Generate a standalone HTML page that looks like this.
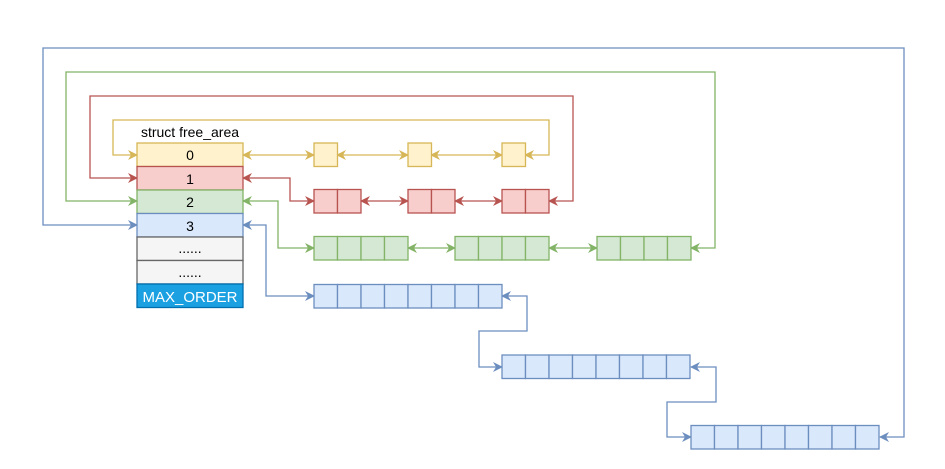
<!DOCTYPE html>
<html><head><meta charset="utf-8"><style>html,body{margin:0;padding:0;background:#fff}svg{display:block}text{font-family:"Liberation Sans",sans-serif}</style></head>
<body>
<svg width="945" height="469" viewBox="0 0 945 469" xmlns="http://www.w3.org/2000/svg">
<defs>
<marker id="my" viewBox="0 0 10 10" refX="9" refY="5" markerWidth="10" markerHeight="10" orient="auto-start-reverse" markerUnits="userSpaceOnUse"><path d="M0,0 L10,5 L0,10 L3,5z" fill="#d6b656"/></marker>
<marker id="mr" viewBox="0 0 10 10" refX="9" refY="5" markerWidth="10" markerHeight="10" orient="auto-start-reverse" markerUnits="userSpaceOnUse"><path d="M0,0 L10,5 L0,10 L3,5z" fill="#b85450"/></marker>
<marker id="mg" viewBox="0 0 10 10" refX="9" refY="5" markerWidth="10" markerHeight="10" orient="auto-start-reverse" markerUnits="userSpaceOnUse"><path d="M0,0 L10,5 L0,10 L3,5z" fill="#82b366"/></marker>
<marker id="mb" viewBox="0 0 10 10" refX="9" refY="5" markerWidth="10" markerHeight="10" orient="auto-start-reverse" markerUnits="userSpaceOnUse"><path d="M0,0 L10,5 L0,10 L3,5z" fill="#6c8ebf"/></marker>
</defs>
<g fill="none" stroke-width="1.3">
<path d="M525,155 L549,155 L549,120 L113,120 L113,155 L137,155" stroke="#d6b656" marker-start="url(#my)" marker-end="url(#my)"/>
<path d="M549,201 L573,201 L573,96 L90,96 L90,178 L137,178" stroke="#b85450" marker-start="url(#mr)" marker-end="url(#mr)"/>
<path d="M691,248 L715,248 L715,72 L66,72 L66,201 L137,201" stroke="#82b366" marker-start="url(#mg)" marker-end="url(#mg)"/>
<path d="M880,437 L904,437 L904,48 L43,48 L43,225 L137,225" stroke="#6c8ebf" marker-start="url(#mb)" marker-end="url(#mb)"/>
<path d="M243,155 L314,155" stroke="#d6b656" marker-start="url(#my)" marker-end="url(#my)"/>
<path d="M337,155 L408,155" stroke="#d6b656" marker-start="url(#my)" marker-end="url(#my)"/>
<path d="M431,155 L502,155" stroke="#d6b656" marker-start="url(#my)" marker-end="url(#my)"/>
<path d="M243,178 L290,178 L290,201 L314,201" stroke="#b85450" marker-start="url(#mr)" marker-end="url(#mr)"/>
<path d="M361,201 L408,201" stroke="#b85450" marker-start="url(#mr)" marker-end="url(#mr)"/>
<path d="M455,201 L502,201" stroke="#b85450" marker-start="url(#mr)" marker-end="url(#mr)"/>
<path d="M243,201 L278,201 L278,248 L314,248" stroke="#82b366" marker-start="url(#mg)" marker-end="url(#mg)"/>
<path d="M408,248 L455,248" stroke="#82b366" marker-start="url(#mg)" marker-end="url(#mg)"/>
<path d="M549,248 L597,248" stroke="#82b366" marker-start="url(#mg)" marker-end="url(#mg)"/>
<path d="M243,225 L266,225 L266,296 L314,296" stroke="#6c8ebf" marker-start="url(#mb)" marker-end="url(#mb)"/>
<path d="M502,296 L527,296 L527,331 L479,331 L479,367 L502,367" stroke="#6c8ebf" marker-start="url(#mb)" marker-end="url(#mb)"/>
<path d="M691,367 L716,367 L716,402 L667,402 L667,437 L691,437" stroke="#6c8ebf" marker-start="url(#mb)" marker-end="url(#mb)"/>
</g>
<text x="190" y="137" font-size="14" text-anchor="middle">struct free_area</text>
<g stroke-width="1.3">
<rect x="137" y="143" width="106" height="23.5" fill="#fff2cc" stroke="#d6b656"/>
<rect x="137" y="166.5" width="106" height="23.5" fill="#f8cecc" stroke="#b85450"/>
<rect x="137" y="190" width="106" height="23.5" fill="#d5e8d4" stroke="#82b366"/>
<rect x="137" y="213.5" width="106" height="23.5" fill="#dae8fc" stroke="#6c8ebf"/>
<rect x="137" y="237" width="106" height="23.5" fill="#f5f5f5" stroke="#666"/>
<rect x="137" y="260.5" width="106" height="23.5" fill="#f5f5f5" stroke="#666"/>
<rect x="137" y="284" width="106" height="23.5" fill="#1ba1e2" stroke="#006eaf"/>
</g>
<g font-size="14" text-anchor="middle">
<text x="190" y="160">0</text><text x="190" y="184">1</text><text x="190" y="207">2</text><text x="190" y="231">3</text>
<text x="190" y="253">......</text><text x="190" y="277">......</text>
<text x="190" y="302" fill="#fff" font-size="15">MAX_ORDER</text>
</g>
<g stroke-width="1.3">
<g fill="#fff2cc" stroke="#d6b656">
<rect x="314" y="143" width="23.5" height="23.5"/><rect x="408" y="143" width="23.5" height="23.5"/><rect x="502" y="143" width="23.5" height="23.5"/>
</g>
<g fill="#f8cecc" stroke="#b85450">
<rect x="314" y="189.5" width="23.5" height="23.5"/><rect x="337.5" y="189.5" width="23.5" height="23.5"/>
<rect x="408" y="189.5" width="23.5" height="23.5"/><rect x="431.5" y="189.5" width="23.5" height="23.5"/>
<rect x="502" y="189.5" width="23.5" height="23.5"/><rect x="525.5" y="189.5" width="23.5" height="23.5"/>
</g>
<g fill="#d5e8d4" stroke="#82b366">
<rect x="314" y="236.5" width="23.5" height="23.5"/><rect x="337.5" y="236.5" width="23.5" height="23.5"/><rect x="361" y="236.5" width="23.5" height="23.5"/><rect x="384.5" y="236.5" width="23.5" height="23.5"/>
<rect x="455" y="236.5" width="23.5" height="23.5"/><rect x="478.5" y="236.5" width="23.5" height="23.5"/><rect x="502" y="236.5" width="23.5" height="23.5"/><rect x="525.5" y="236.5" width="23.5" height="23.5"/>
<rect x="597" y="236.5" width="23.5" height="23.5"/><rect x="620.5" y="236.5" width="23.5" height="23.5"/><rect x="644" y="236.5" width="23.5" height="23.5"/><rect x="667.5" y="236.5" width="23.5" height="23.5"/>
</g>
<g fill="#dae8fc" stroke="#6c8ebf">
<rect x="314" y="284.5" width="23.5" height="23.5"/><rect x="337.5" y="284.5" width="23.5" height="23.5"/><rect x="361" y="284.5" width="23.5" height="23.5"/><rect x="384.5" y="284.5" width="23.5" height="23.5"/><rect x="408" y="284.5" width="23.5" height="23.5"/><rect x="431.5" y="284.5" width="23.5" height="23.5"/><rect x="455" y="284.5" width="23.5" height="23.5"/><rect x="478.5" y="284.5" width="23.5" height="23.5"/>
<rect x="502" y="355" width="23.5" height="23.5"/><rect x="525.5" y="355" width="23.5" height="23.5"/><rect x="549" y="355" width="23.5" height="23.5"/><rect x="572.5" y="355" width="23.5" height="23.5"/><rect x="596" y="355" width="23.5" height="23.5"/><rect x="619.5" y="355" width="23.5" height="23.5"/><rect x="643" y="355" width="23.5" height="23.5"/><rect x="666.5" y="355" width="23.5" height="23.5"/>
<rect x="691" y="425.5" width="23.5" height="23.5"/><rect x="714.5" y="425.5" width="23.5" height="23.5"/><rect x="738" y="425.5" width="23.5" height="23.5"/><rect x="761.5" y="425.5" width="23.5" height="23.5"/><rect x="785" y="425.5" width="23.5" height="23.5"/><rect x="808.5" y="425.5" width="23.5" height="23.5"/><rect x="832" y="425.5" width="23.5" height="23.5"/><rect x="855.5" y="425.5" width="23.5" height="23.5"/>
</g>
</g>
</svg>
</body></html>
